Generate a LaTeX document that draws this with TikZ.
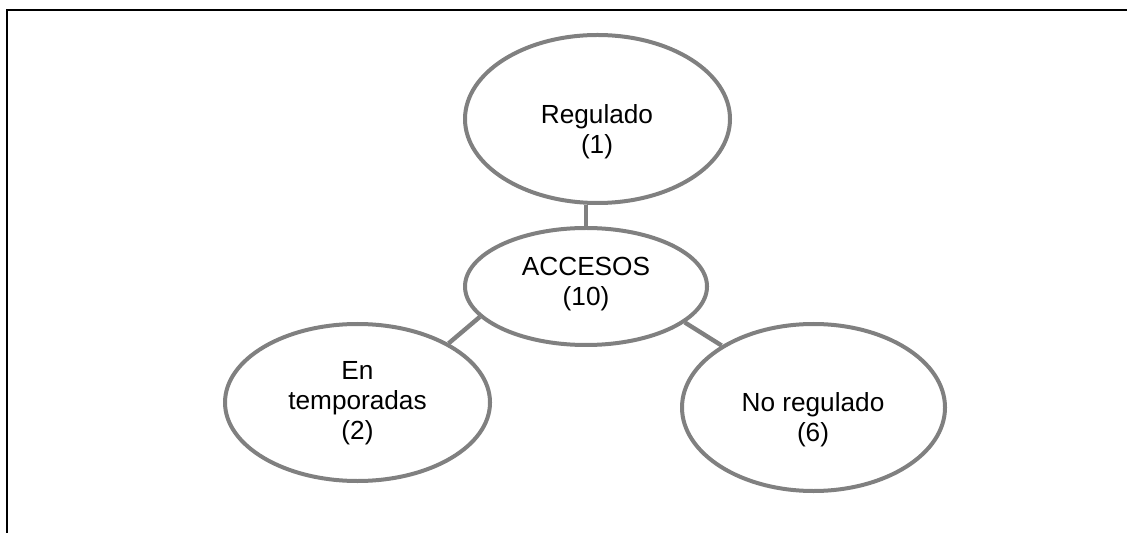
\documentclass[tikz,border=0pt]{standalone}
\usepackage{fontspec}
\setmainfont{Liberation Sans}
\usetikzlibrary{shapes.geometric}
\definecolor{ovalgray}{RGB}{128,128,128}
\begin{document}
\begin{tikzpicture}[x=0.5pt,y=-0.5pt]

\tikzset{oval/.style={ellipse, draw=ovalgray, line width=2pt, fill=white, inner sep=0pt},
lbl/.style={align=center, inner sep=0pt, font=\fontsize{13.1}{15}\selectfont},
link/.style={draw=ovalgray, line width=2.2pt}}

\useasboundingbox (0,0) rectangle (1127,533);

% frame
\draw [black,line width=1pt] (7,533) -- (7,10) -- (1127,10);

% ellipses
\node [oval,minimum width=132.5pt,minimum height=84pt] (reg) at (597.5,119) {};
\node [oval,minimum width=121pt,minimum height=58.5pt] (acc) at (586,286.5) {};
\node [oval,minimum width=132.5pt,minimum height=78.5pt] (temp) at (357.5,402.5) {};
\node [oval,minimum width=131.5pt,minimum height=83.5pt] (noreg) at (813.5,407.5) {};

% texts
\node [lbl] (reg-t) at (597,132) {Regulado\\(1)};
\node [lbl] (acc-t) at (586,284.5) {ACCESOS\\(10)};
\node [lbl] (temp-t) at (357.5,403.5) {En\\temporadas\\(2)};
\node [lbl] (noreg-t) at (813,420) {No regulado\\(6)};

% links
\draw [link] (acc.north) -- (acc.north |- reg.south);
\draw [link] (acc.196) -- (temp.33);
\draw [link] (acc.340) -- (noreg.146);

\end{tikzpicture}
\end{document}
